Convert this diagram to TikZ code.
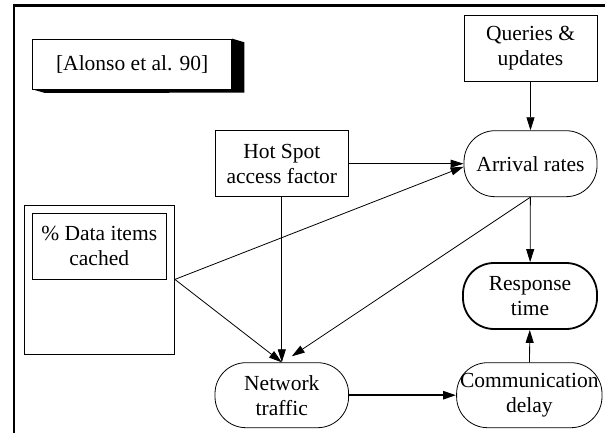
\documentclass[tikz,border=0pt]{standalone}
\usepackage{fontspec}
\setmainfont{Liberation Serif}
\usetikzlibrary{positioning, arrows.meta}

\begin{document}
\begin{tikzpicture}[
    x=1pt, y=-1pt,
    font=\fontsize{21.5pt}{25pt}\selectfont,
    box/.style={draw, rectangle, line width=0.8pt, inner sep=0pt, align=center},
    pill/.style={draw, rectangle, rounded corners=31pt, line width=0.8pt, inner sep=0pt, align=center, minimum width=133pt, minimum height=66pt},
    arr/.style={-{Triangle[length=13pt, width=8pt]}, line width=0.8pt}
]
    \useasboundingbox (0,0) rectangle (605,433);
    % frame
    \draw[line width=2.7pt] (14,433) -- (14,5.3) -- (605,5.3);

    % reference box with shadow
    \node[box, minimum width=198.8pt, minimum height=50pt] (alonso) at (132.2,64) {[Alonso et al. 90]};
    \fill (alonso.north east) -- ++(12.4,3.7) -- ++(0,50.3) -- (45,93) -- (alonso.south west) -- (alonso.south east) -- cycle;

    \node[box, minimum width=133pt, minimum height=66pt] (queries) at (530.5,48) {Queries \&\\updates};
    \node[box, minimum width=133.6pt, minimum height=66pt] (hotspot) at (281.8,163.7) {Hot Spot\\access factor};
    \node[pill] (arrival) at (530.5,163.7) {Arrival rates};
    \node[pill, line width=1.8pt, minimum width=134pt] (response) at (530,296) {Response\\time};
    \node[pill, minimum width=133.6pt, minimum height=65pt] (network) at (281.8,395.2) {Network\\traffic};
    \node[pill, minimum width=145.4pt, minimum height=65pt] (comm) at (529.3,395.2) {Communication\\delay};

    \node[box, minimum width=150.2pt, minimum height=149pt] (cached) at (99.4,279.5) {};
    \node[box, minimum width=133.6pt, minimum height=66pt] (items) at (99.2,246) {\% Data items\\cached};
    \coordinate (itemsout) at (cached.east |- items.south);

    \draw[arr] (queries) -- (arrival);
    \draw[arr] (hotspot.east) -- (arrival.west);
    \draw[arr] (itemsout) -- ([yshift=-3pt]arrival.west);
    \draw[arr] (itemsout) -- (network.north);
    \draw[arr] (hotspot) -- (network);
    \draw[arr] (arrival.south) -- ([xshift=10pt, yshift=6pt]network.north);
    \draw[arr] (arrival) -- (response);
    \draw[arr, line width=2.4pt] (network) -- (comm);
    \draw[arr] (comm) -- (response);

\end{tikzpicture}
\end{document}
